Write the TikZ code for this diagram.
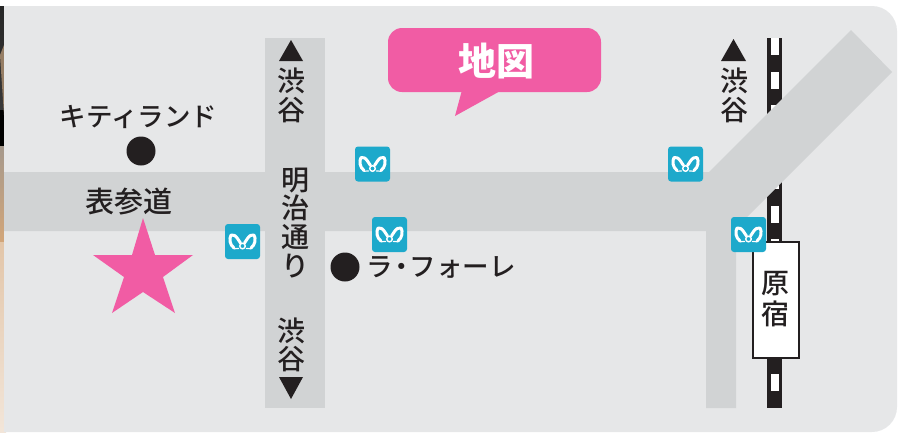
\documentclass[tikz,border=0pt]{standalone}
\usepackage{fontspec}
\setmainfont{Noto Sans CJK JP Medium}
\newfontfamily\jpbold{Noto Sans CJK JP Black}
\definecolor{mapbg}{HTML}{E6E7E8}
\definecolor{roadc}{HTML}{D1D3D4}
\definecolor{inkc}{HTML}{231F20}
\definecolor{pinkc}{HTML}{F15CA4}
\definecolor{metroc}{HTML}{1DA9CB}
\tikzset{
  lbl/.style={text=inkc,inner sep=0pt,font=\fontsize{28}{28}\selectfont},
  kana/.style={text=inkc,inner sep=0pt,font=\fontsize{26.5}{27}\selectfont},
  dotmark/.style={circle,fill=inkc,minimum size=29pt,inner sep=0pt},
  tri/.style={fill=inkc},
  road/.style={fill=roadc,draw=none},
  metrobox/.style={fill=metroc,rounded corners=3pt,draw=none},
  metrosym/.style={draw=white,line width=3pt,line cap=round,line join=round},
  metro/.pic={
    \path[metrobox] (-17.5,-17.5) rectangle (17.5,17.5);
    \draw[metrosym] (-2,1.5) -- (-5,-3) .. controls (-7,-6) and (-9,-7) .. (-11.5,-6.5)
       .. controls (-13.5,-3) and (-13,3) .. (-8.5,6.5);
    \draw[metrosym] (2,1.5) -- (5,-3) .. controls (7,-6) and (9,-7) .. (11.5,-6.5)
       .. controls (13.5,-3) and (13,3) .. (8.5,6.5);
    \draw[white,line width=1.4pt] (0,4.5) circle (2.8);
    \draw[white,line width=1.2pt,line cap=round] (-8.5,7.2) -- (-4,7) (8.5,7.2) -- (4,7);
  }
}
\begin{document}
\begin{tikzpicture}[x=1pt,y=-1pt]
\useasboundingbox (0,0) rectangle (902,432);
\fill[white] (0,0) rectangle (902,432);
% photo strip on the left
\fill[top color=black!85,bottom color=black!75] (0,6) rectangle (6,146);
\fill[black] (0,110) rectangle (6,146);
\fill[color=brown!55!black!70!white] (4,45) -- (0,55) -- (4,115) -- cycle;
\fill[top color=brown!40!black!50!white,bottom color=brown!70!white] (0,146) rectangle (6,242);
\fill[top color=brown!45!white,bottom color=brown!20!white] (0,242) rectangle (6,432);
% map ground
\fill[mapbg] (4,6) -- (872,6) arc[start angle=-90,end angle=0,radius=25] -- (897,407)
   arc[start angle=0,end angle=90,radius=25] -- (4,432) -- cycle;
% railway
\fill[inkc] (767,38) rectangle (782,408);
\foreach \yy in {38,72,105,139,172,206,239,273,306,340,374}
  \fill[white] (770.5,\yy) rectangle (778.5,\yy+17);
% roads
\path[road] (4,172) -- (709,172) -- (851,30) -- (892,72) -- (736,228) -- (736,408)
   -- (706,408) -- (706,231) -- (4,231) -- cycle;
\path[road] (265,38) rectangle (325,408);
% star
\fill[pinkc] (143,218) -- (155,255) -- (193,255) -- (163,277) -- (175,313)
   -- (143,292) -- (112,313) -- (124,277) -- (93,255) -- (132,255) -- cycle;
% callout
\fill[pinkc,rounded corners=14pt] (388,28) rectangle (601,92);
\fill[pinkc] (462,90) -- (455,116) -- (502,90) -- cycle;
\node[text=white,inner sep=0pt,font=\jpbold\fontsize{38}{38}\selectfont] (title) at (496,61) {地図};
% markers
\node[dotmark] (dotkitty) at (141,151) {};
\node[dotmark] (dotlaforet) at (345,267) {};
% labels
\node[kana] (kitty) at (138.5,117) {キティランド};
\node[lbl,font=\fontsize{29}{29}\selectfont] (omotesando) at (128.5,202) {表参道};
\node[kana] (laforet) at (441,267) {ラ\kern-5pt ・\kern-5pt フォーレ};
% Meiji-dori
\fill[tri] (279,61) -- (291,40) -- (303,61) -- cycle;
\node[lbl] (sa) at (291,81) {渋};
\node[lbl] (sb) at (291,110) {谷};
\node[lbl] (ma) at (295,181) {明};
\node[lbl] (mb) at (295,208) {治};
\node[lbl] (mc) at (295,237) {通};
\node[lbl] (md) at (295,266) {り};
\node[lbl] (sc) at (291,331) {渋};
\node[lbl] (sd) at (291,359) {谷};
\fill[tri] (279,377) -- (303,377) -- (291,399) -- cycle;
% right Shibuya
\fill[tri] (721,61) -- (733.5,39) -- (746,61) -- cycle;
\node[lbl] (se) at (734,81) {渋};
\node[lbl] (sf) at (734,110) {谷};
% station
\node[draw=inkc,fill=white,line width=1.6pt,minimum width=46pt,minimum height=116pt,inner sep=0pt,anchor=north west] (station) at (752,241) {};
\node[lbl] (ha) at (775,284) {原};
\node[lbl] (hb) at (775,314) {宿};
% metro icons
\pic at (372.5,164) {metro};
\pic at (389.5,234.5) {metro};
\pic at (685.5,164) {metro};
\pic at (748.5,234.5) {metro};
\pic at (242.5,241.5) {metro};
\end{tikzpicture}
\end{document}
